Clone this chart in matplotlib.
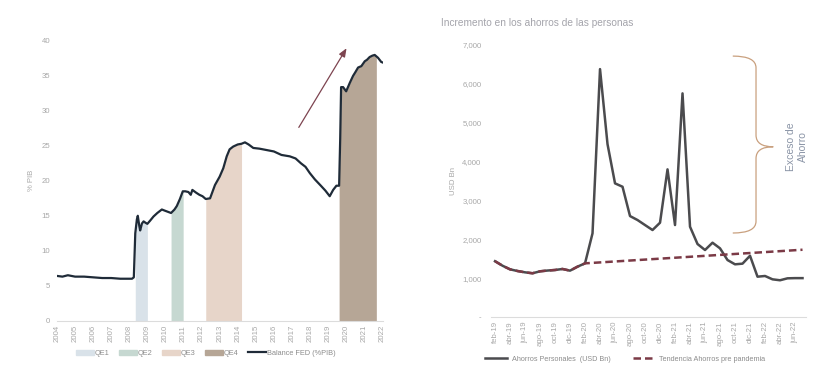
import numpy as np
import matplotlib.pyplot as plt
from matplotlib.path import Path
from matplotlib.patches import PathPatch, Patch
from matplotlib.lines import Line2D

plt.rcParams['font.family'] = ['Liberation Sans', 'DejaVu Sans']

# --- left chart: FED balance sheet as % of GDP ---
fed_year = [2004.0, 2004.3, 2004.6, 2005.0, 2005.5, 2006.0, 2006.5, 2007.0, 2007.5, 2008.0,
            2008.15, 2008.25, 2008.33, 2008.42, 2008.47, 2008.55, 2008.6, 2008.7, 2008.79, 2008.9,
            2009.0, 2009.15, 2009.34, 2009.55, 2009.8, 2010.0, 2010.31, 2010.5, 2010.63, 2010.8,
            2010.96, 2011.1, 2011.27, 2011.4, 2011.49, 2011.7, 2011.88, 2012.05, 2012.23, 2012.47,
            2012.74, 2013.0, 2013.2, 2013.39, 2013.55, 2013.75, 2014.0, 2014.21, 2014.4, 2014.6,
            2014.86, 2015.2, 2015.6, 2016.0, 2016.42, 2016.88, 2017.2, 2017.5, 2017.75, 2017.99,
            2018.27, 2018.6, 2018.85, 2019.09, 2019.28, 2019.46, 2019.61, 2019.67, 2019.72, 2019.83,
            2020.0, 2020.2, 2020.38, 2020.5, 2020.66, 2020.84, 2021.03, 2021.15, 2021.3, 2021.45,
            2021.58, 2021.76, 2021.94, 2022.04]
fed_pct = [6.4, 6.3, 6.5, 6.3, 6.3, 6.2, 6.1, 6.1, 6.0, 6.0,
           6.0, 6.2, 12.5, 14.5, 15.0, 13.6, 12.9, 13.9, 14.2, 14.0,
           13.85, 14.3, 14.9, 15.4, 15.9, 15.7, 15.4, 15.9, 16.4, 17.4,
           18.5, 18.5, 18.4, 18.0, 18.7, 18.3, 18.0, 17.8, 17.4, 17.5,
           19.4, 20.6, 21.8, 23.5, 24.5, 24.9, 25.2, 25.3, 25.5, 25.2,
           24.7, 24.6, 24.4, 24.2, 23.7, 23.5, 23.2, 22.5, 22.0, 21.1,
           20.2, 19.3, 18.6, 17.8, 18.7, 19.3, 19.3, 26.0, 33.4, 33.4,
           32.8, 34.0, 35.0, 35.5, 36.2, 36.4, 37.1, 37.3, 37.7, 37.9,
           38.0, 37.6, 37.0, 36.9]
qe_names = ["QE1", "QE2", "QE3", "QE4"]
qe_start = [2008.33, 2010.31, 2012.23, 2019.61]
qe_end = [2009.0, 2010.98, 2014.21, 2021.67]
qe_colors = ["#d9e2e9", "#c6d8d1", "#e7d5c9", "#b6a696"]

# --- right chart: personal savings ---
months = ["feb-19", "mar-19", "abr-19", "may-19", "jun-19", "jul-19", "ago-19", "sep-19", "oct-19",
          "nov-19", "dic-19", "ene-20", "feb-20", "mar-20", "abr-20", "may-20", "jun-20", "jul-20",
          "ago-20", "sep-20", "oct-20", "nov-20", "dic-20", "ene-21", "feb-21", "mar-21", "abr-21",
          "may-21", "jun-21", "jul-21", "ago-21", "sep-21", "oct-21", "nov-21", "dic-21", "ene-22",
          "feb-22", "mar-22", "abr-22", "may-22", "jun-22", "jul-22"]
savings = [1440, 1324, 1231, 1188, 1154, 1130, 1180, 1200, 1214, 1240,
           1197, 1300, 1385, 2157, 6380, 4450, 3442, 3355, 2601, 2499,
           2370, 2242, 2430, 3802, 2370, 5756, 2327, 1882, 1728, 1916,
           1771, 1470, 1360, 1377, 1580, 1042, 1060, 974, 950, 1000,
           1005, 1005]
trend_idx = list(range(13)) + [41]
trend_val = savings[:13] + [1735]

tick_col = "#a8a8a8"
text_col = "#8c8c8c"

fig = plt.figure(figsize=(8.3, 3.71), dpi=100)

# ---------------- left ----------------
ax1 = fig.add_axes([0.0687, 0.1356, 0.393, 0.754])
for a, b, c in zip(qe_start, qe_end, qe_colors):
    xs = np.linspace(a, b, 300)
    ax1.fill_between(xs, 0, np.interp(xs, fed_year, fed_pct), color=c, lw=0)
ax1.plot(fed_year, fed_pct, color="#1f2b38", lw=1.6, solid_joinstyle="round")
ax1.set_xlim(2004, 2022.05)
ax1.set_ylim(0, 40)
ax1.set_xticks(range(2004, 2023))
ax1.set_xticklabels([str(y) for y in range(2004, 2023)], rotation=90)
ax1.set_yticks(range(0, 41, 5))
ax1.tick_params(axis="both", colors=tick_col, labelsize=5.6, length=0)
ax1.tick_params(axis="y", pad=5)
ax1.tick_params(axis="x", pad=3)
for s in ["top", "right", "left"]:
    ax1.spines[s].set_visible(False)
ax1.spines["bottom"].set_color("#dcdcdc")
ax1.spines["bottom"].set_linewidth(0.8)
ax1.set_ylabel("% PIB", color=tick_col, fontsize=5.6)
ax1.yaxis.set_label_coords(-0.067, 0.5)
ax1.annotate("", xy=(2020.1, 39.3), xytext=(2017.3, 27.3),
             arrowprops=dict(arrowstyle="-|>,head_length=0.5,head_width=0.2",
                             color="#7d4450", lw=0.9))
handles1 = [Patch(color=c, label=n) for n, c in zip(qe_names, qe_colors)]
handles1.append(Line2D([], [], color="#1f2b38", lw=1.6, label="Balance FED (%PIB)"))
leg1 = fig.legend(handles=handles1, loc="center", bbox_to_anchor=(0.248, 0.048), ncol=5,
                  frameon=False, fontsize=5.3, handlelength=2.4, handleheight=0.65,
                  handletextpad=0.15, columnspacing=1.3)
for t in leg1.get_texts():
    t.set_color(text_col)

# ---------------- right ----------------
ax2 = fig.add_axes([0.5919, 0.145, 0.3795, 0.7337])
x = np.arange(len(months))
ax2.plot(x, savings, color="#4b4b4e", lw=1.8)
ax2.plot(trend_idx, trend_val, color="#7b3a46", lw=1.8, ls=(0, (3, 1.6)))
ax2.set_xlim(-0.5, 41.5)
ax2.set_ylim(0, 7000)
ax2.set_xticks(x[::2])
ax2.set_xticklabels(months[::2], rotation=90)
ax2.set_yticks(range(0, 7001, 1000))
ax2.set_yticklabels(["-"] + [f"{v:,}" for v in range(1000, 7001, 1000)])
ax2.tick_params(axis="both", colors=tick_col, labelsize=5.6, length=0)
ax2.tick_params(axis="y", pad=7)
ax2.tick_params(axis="x", pad=3)
for s in ["top", "right", "left"]:
    ax2.spines[s].set_visible(False)
ax2.spines["bottom"].set_color("#dcdcdc")
ax2.spines["bottom"].set_linewidth(0.8)
ax2.set_ylabel("USD Bn", color=tick_col, fontsize=5.6)
ax2.yaxis.set_label_coords(-0.108, 0.5)

# curly brace marking the excess savings
bx_end, bx_spine, bx_tip = 31.7, 34.8, 37.1
by_top, by_mid, by_bot, r = 6715, 4383, 2165, 300
verts = [(bx_end, by_top), (bx_spine, by_top), (bx_spine, by_top - r),
         (bx_spine, by_mid + r), (bx_spine, by_mid), (bx_tip, by_mid),
         (bx_spine, by_mid), (bx_spine, by_mid - r),
         (bx_spine, by_bot + r), (bx_spine, by_bot), (bx_end, by_bot)]
codes = [Path.MOVETO, Path.CURVE3, Path.CURVE3, Path.LINETO, Path.CURVE3, Path.CURVE3,
         Path.CURVE3, Path.CURVE3, Path.LINETO, Path.CURVE3, Path.CURVE3]
ax2.add_patch(PathPatch(Path(verts, codes), fill=False, edgecolor="#c9a07e", lw=0.9,
                        clip_on=False))
ax2.text(40.3, by_mid, "Exceso de\nAhorro", rotation=90, ha="center", va="center",
         multialignment="center", fontsize=7.5, color="#8a94a6", linespacing=1.3)

fig.text(0.531, 0.939, "Incremento en los ahorros de las personas", fontsize=7.3,
         color="#a4a4ab", ha="left", va="center")

handles2 = [Line2D([], [], color="#4b4b4e", lw=1.8, label="Ahorros Personales  (USD Bn)"),
            Line2D([], [], color="#7b3a46", lw=1.8, ls=(0, (3, 1.6)),
                   label="Tendencia Ahorros pre pandemia")]
leg2 = fig.legend(handles=handles2, loc="center", bbox_to_anchor=(0.7536, 0.032), ncol=2,
                  frameon=False, fontsize=5.2, handlelength=3.0, handletextpad=0.7,
                  columnspacing=3.0)
for t in leg2.get_texts():
    t.set_color(text_col)

fig.savefig("out.png", dpi=100, facecolor="white")
